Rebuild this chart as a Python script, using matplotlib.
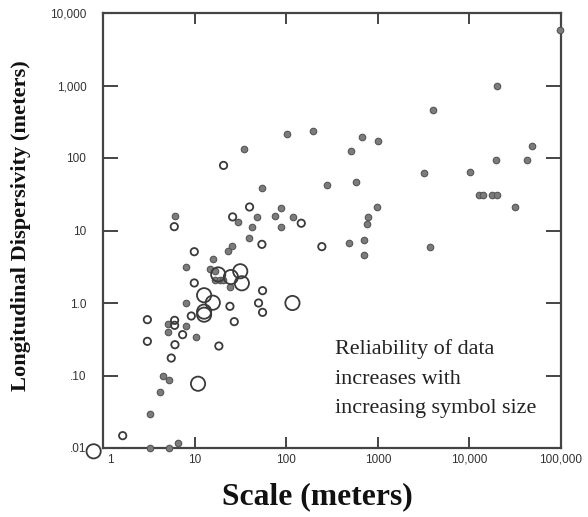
import matplotlib
matplotlib.use("Agg")
import matplotlib.pyplot as plt
import matplotlib.transforms as mtransforms

# ---------------- data ----------------
filled_x = [98000, 19900, 4050, 102, 194, 680, 1008, 512, 35, 48700, 19700, 42600,
            3200, 10090, 575, 282, 54, 12800, 14000, 17500, 20200, 31500, 992, 88,
            791, 771, 75, 118, 48, 29.7, 42.6, 88, 6.15, 38.8, 703, 479, 3690, 709,
            25.5, 23.1, 15.8, 8.0, 14.8, 16.5, 16.8, 18.7, 20.4, 24.3, 8.1, 8.1,
            5.08, 5.08, 10.4, 4.48, 5.29, 4.22, 3.26, 6.58, 3.26, 5.29]
filled_y = [5900, 973, 464, 212, 238, 193, 171, 126, 135, 145, 95, 94,
            63, 64, 46, 42.5, 38.5, 30.5, 30.5, 30.5, 30.5, 21.3, 21.3, 20.2,
            15.4, 12.3, 15.7, 15.4, 15.5, 13.0, 11.1, 11.3, 15.8, 7.96, 7.48, 6.65, 5.92, 4.64,
            6.1, 5.27, 4.08, 3.1, 2.98, 2.76, 2.06, 2.06, 2.06, 1.66, 1.01, 0.486,
            0.519, 0.403, 0.34, 0.0996, 0.0877, 0.0586, 0.0298, 0.0117, 0.01, 0.01]

small_x = [20.7, 39.8, 26, 146, 6.0, 54.3, 245, 9.92, 9.92, 55.2, 24.3, 49.9,
           55.2, 27.1, 3.05, 6.05, 6.05, 9.2, 7.4, 3.05, 6.1, 18.4, 5.56, 1.64]
small_y = [79, 21.1, 15.4, 12.6, 11.3, 6.44, 5.99, 5.1, 1.89, 1.48, 0.90, 1.0,
           0.743, 0.553, 0.589, 0.577, 0.492, 0.662, 0.366, 0.296, 0.266, 0.255, 0.174, 0.0148]

medium_x = [18.1, 24.9, 31.5, 32.8, 12.7, 15.8, 12.7, 12.7, 117, 10.9, 0.79]
medium_y = [2.48, 2.28, 2.74, 1.87, 1.28, 1.01, 0.76, 0.69, 1.0, 0.077, 0.009]

x_ticks = [1, 10, 100, 1000, 10000, 100000]
x_labels = ["1", "10", "100", "1000", "10,000", "100,000"]
y_ticks = [0.01, 0.1, 1, 10, 100, 1000, 10000]
y_labels = [".01", ".10", "1.0", "10", "100", "1,000", "10,000"]

x_title = "Scale (meters)"
y_title = "Longitudinal Dispersivity (meters)"
note = "Reliability of data\nincreases with\nincreasing symbol size"

W, H = 588, 517
fig = plt.figure(figsize=(W / 100, H / 100), dpi=100)
fig.patch.set_facecolor("white")
ax = fig.add_axes([103 / W, 1 - 448 / H, (561 - 103) / W, (448 - 13) / H])
ax.set_xscale("log")
ax.set_yscale("log")
ax.set_xlim(1, 100000)
ax.set_ylim(0.01, 10000)

ax.scatter(filled_x, filled_y, s=22, facecolor="#7c7c7c", edgecolor="#555555",
           linewidths=0.8, zorder=3, clip_on=False)
ax.scatter(small_x, small_y, s=28, facecolor="none", edgecolor="#3a3a3a",
           linewidths=1.3, zorder=3, clip_on=False)
ax.scatter(medium_x, medium_y, s=105, facecolor="none", edgecolor="#3a3a3a",
           linewidths=1.3, zorder=3, clip_on=False)

for sp in ax.spines.values():
    sp.set_color("#444444")
    sp.set_linewidth(1.6)

ax.set_xticks(x_ticks)
ax.set_xticklabels(x_labels)
ax.set_yticks(y_ticks)
ax.set_yticklabels(y_labels)
ax.minorticks_off()
ax.tick_params(axis="both", which="major", direction="in", colors="#444444",
               width=1.4, labelsize=8.5, labelcolor="#333333")
ax.tick_params(axis="y", length=11, pad=12, right=True)
ax.tick_params(axis="x", length=8, pad=4, top=True)
for lab in ax.get_xticklabels() + ax.get_yticklabels():
    lab.set_family("Liberation Sans")
# the "1" label sits slightly right of its tick in the reference
first = ax.get_xticklabels()[0]
first.set_transform(first.get_transform() +
                    mtransforms.ScaledTranslation(5 / 72, 0, fig.dpi_scale_trans))
# hide tick marks at the corners
for t in ax.yaxis.get_major_ticks():
    if t.get_loc() in (0.01, 10000):
        t.tick1line.set_visible(False)
        t.tick2line.set_visible(False)
for t in ax.xaxis.get_major_ticks():
    if t.get_loc() in (1, 100000):
        t.tick1line.set_visible(False)
        t.tick2line.set_visible(False)

tkw = dict(family="Liberation Serif", fontweight="bold", size=19, color="#111111")
xt = fig.text(317 / W, 1 - 497 / H, x_title, ha="center", va="center", **tkw)
yt = fig.text(21 / W, 1 - 226 / H, y_title, ha="center", va="center", rotation=90, **tkw)
nt = fig.text(335 / W, 1 - 339 / H, note, ha="left", va="top", color="#222222",
              family="Liberation Serif", size=14, linespacing=1.75)

fig.canvas.draw()
r = fig.canvas.get_renderer()
xt.set_fontsize(19 * 190 / xt.get_window_extent(r).width)
yt.set_fontsize(19 * 330 / yt.get_window_extent(r).height)
nsz = 14 * 203 / nt.get_window_extent(r).width
nt.set_fontsize(nsz)
nt.set_linespacing(1.75 * 14 / nsz * 30 / 26)

fig.savefig("out.png", dpi=100)
